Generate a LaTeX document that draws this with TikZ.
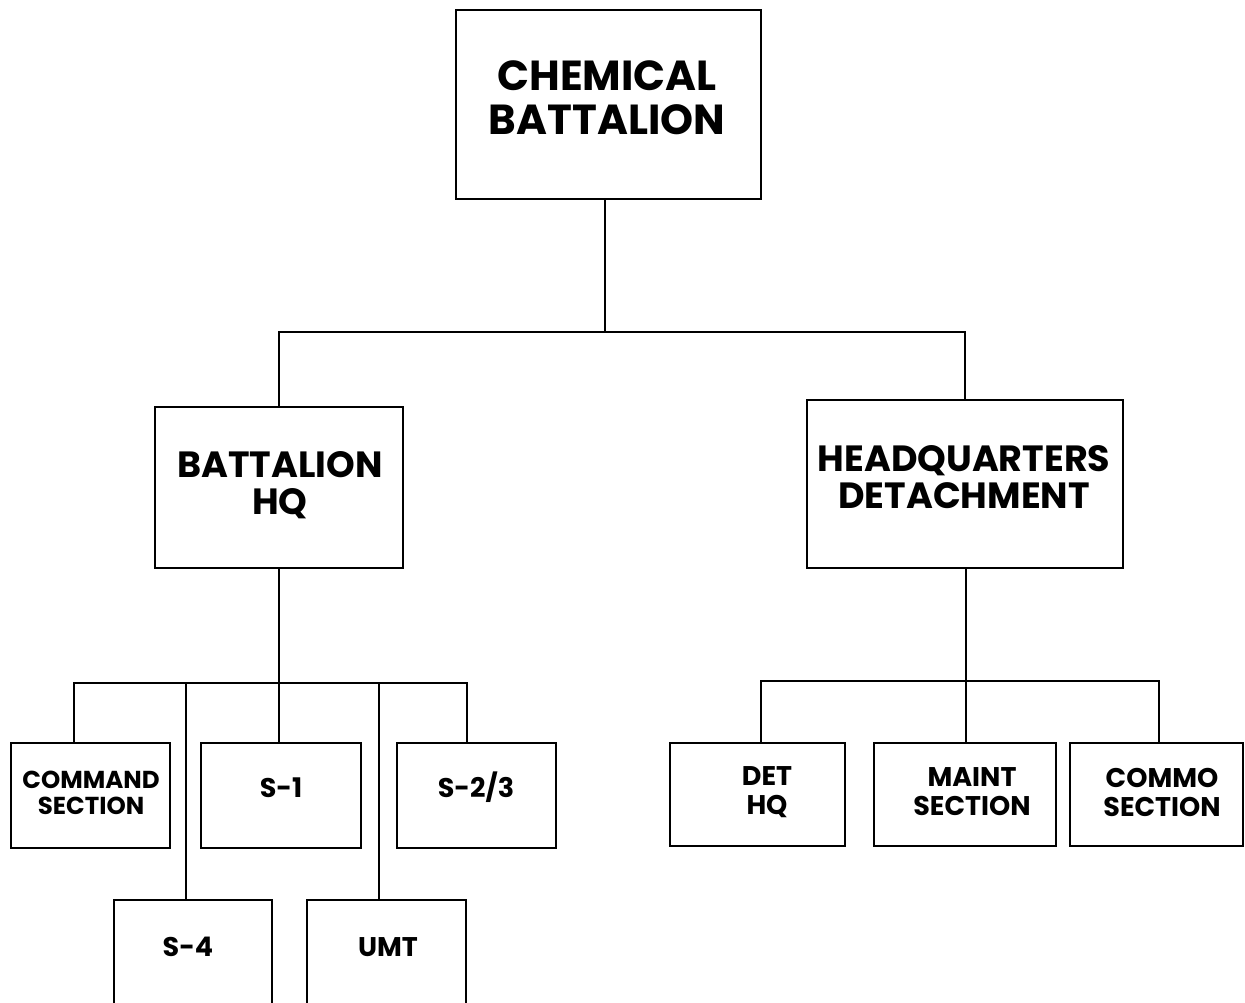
\documentclass[tikz,border=0pt]{standalone}
\usepackage{fontspec}
\setmainfont{Poppins}
\usepackage{tikz}

\begin{document}
\begin{tikzpicture}[x=1pt, y=-1pt,
  unit/.style={draw=black, line width=2pt, inner sep=0pt},
  ttl/.style={align=center, inner sep=0pt, font=\bfseries\fontsize{42}{44}\selectfont},
  mid/.style={align=center, inner sep=0pt, font=\bfseries\fontsize{36.5}{37}\selectfont},
  low/.style={align=center, inner sep=0pt, font=\bfseries\fontsize{27}{29}\selectfont},
  line/.style={line width=2pt, color=black}
]
\useasboundingbox (0,0) rectangle (1245,1003);
\clip (0,0) rectangle (1245,1003);

% boxes
\node[unit, minimum width=305, minimum height=189] (top) at (608.5,104.5) {};
\node[unit, minimum width=248, minimum height=161] (bhq) at (279,487.5) {};
\node[unit, minimum width=316, minimum height=168] (hqd) at (965,484) {};
\node[unit, minimum width=159, minimum height=105] (cmd) at (90.5,795.5) {};
\node[unit, minimum width=160, minimum height=105] (s1) at (281,795.5) {};
\node[unit, minimum width=159, minimum height=105] (s23) at (476.5,795.5) {};
\node[unit, minimum width=158, minimum height=120] (s4) at (193,960) {};
\node[unit, minimum width=159, minimum height=120] (umt) at (386.5,960) {};
\node[unit, minimum width=175, minimum height=103] (det) at (757.5,794.5) {};
\node[unit, minimum width=182, minimum height=103] (mnt) at (965,794.5) {};
\node[unit, minimum width=173, minimum height=103] (com) at (1156.5,794.5) {};

% texts
\node[ttl] (toptxt) at (607,97.5) {CHEMICAL\\BATTALION};
\node[mid] (bhqtxt) at (280,485) {BATTALION\\HQ};
\node[mid] (hqdtxt) at (964,477) {HEADQUARTERS\\DETACHMENT};
\node[low, font=\bfseries\fontsize{24.5}{26}\selectfont] (cmdtxt) at (91,793) {COMMAND\\SECTION};
\node[low] (s1txt) at (281,787.5) {S-1};
\node[low] (s23txt) at (476,787.5) {S-2/3};
\node[low] (s4txt) at (188,947) {S-4};
\node[low] (umttxt) at (388,947) {UMT};
\node[low] (dettxt) at (767,792) {DET\\HQ};
\node[low] (mnttxt) at (972,792) {MAINT\\SECTION};
\node[low] (comtxt) at (1162,792) {COMMO\\SECTION};

% bus points
\coordinate (j1) at (605,332);
\coordinate (j2) at (279,683);
\coordinate (b1) at (74,683);
\coordinate (b2) at (186,683);
\coordinate (b4) at (379,683);
\coordinate (b5) at (467,683);
\coordinate (j3) at (966,681);
\coordinate (c1) at (761,681);
\coordinate (c3) at (1159,681);

% connectors
\draw[line] (top.south -| j1) -- (j1);
\draw[line] (bhq.north) |- (j1) -| (hqd.north);
\draw[line] (bhq.south) -- (j2 |- s1.north);
\draw[line] (b1 |- cmd.north) -- (b1) -- (b5) -- (b5 |- s23.north);
\draw[line] (b2) -- (b2 |- s4.north);
\draw[line] (b4) -- (b4 |- umt.north);
\draw[line] (hqd.south -| j3) -- (j3 |- mnt.north);
\draw[line] (c1 |- det.north) -- (c1) -- (c3) -- (c3 |- com.north);

\end{tikzpicture}
\end{document}
